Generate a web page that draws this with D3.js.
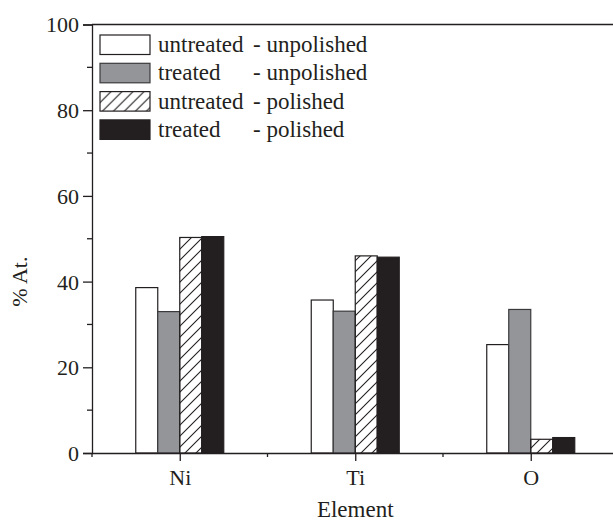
<!DOCTYPE html>
<html>
<head>
<meta charset="utf-8">
<script src="https://cdn.jsdelivr.net/npm/d3@7"></script>
<style>
  body { margin: 0; background: #fff; }
  svg { display: block; font-family: "Liberation Serif", "Times New Roman", serif; }
</style>
</head>
<body>
<script>
var elements = ["Ni", "Ti", "O"];
var seriesNames = ["untreated - unpolished", "treated - unpolished", "untreated - polished", "treated - polished"];
var legendLeft = ["untreated", "treated", "untreated", "treated"];
var legendRight = ["- unpolished", "- unpolished", "- polished", "- polished"];
var untreatedUnpolished = [38.6, 35.7, 25.3];
var treatedUnpolished = [33.0, 33.1, 33.5];
var untreatedPolished = [50.3, 46.0, 3.2];
var treatedPolished = [50.5, 45.7, 3.6];
var yTicks = [0, 20, 40, 60, 80, 100];

var series = [untreatedUnpolished, treatedUnpolished, untreatedPolished, treatedPolished];
var fills = ["#ffffff", "#939598", "url(#hatch)", "#231f20"];
var ink = "#231f20";

var W = 613, H = 523;
var margin = { left: 92, top: 24.5, bottom: 70 };

var svg = d3.select("body").append("svg")
    .attr("width", W)
    .attr("height", H);

// hatch pattern for the untreated-polished series
var defs = svg.append("defs");
defs.append("pattern")
    .attr("id", "hatch")
    .attr("patternUnits", "userSpaceOnUse")
    .attr("width", 11)
    .attr("height", 11)
  .append("path")
    .attr("d", "M-3,3 L3,-3 M0,11 L11,0 M8,14 L14,8")
    .style("stroke", ink)
    .style("stroke-width", 1.1);

var x = d3.scaleLinear()
    .domain([0.5, 3.5])
    .range([margin.left, margin.left + 3 * 175.5]);

var y = d3.scaleLinear()
    .domain([0, 100])
    .range([H - margin.bottom, margin.top]);

var barW = 22;

// bars
series.forEach(function(vals, s) {
    svg.selectAll(".bar" + s)
        .data(vals)
        .enter().append("rect")
        .attr("class", "bar" + s)
        .attr("x", function(d, i) { return x(i + 1) + (s - 2) * barW; })
        .attr("y", function(d) { return y(d); })
        .attr("width", barW)
        .attr("height", function(d) { return y(0) - y(d); })
        .style("fill", fills[s])
        .style("stroke", s == 1 ? "#3a3a3c" : ink)
        .style("stroke-width", 1.2);
});

// y axis
var yAxis = d3.axisLeft(y)
    .tickValues(yTicks)
    .tickSize(9)
    .tickPadding(4);
var gy = svg.append("g")
    .attr("transform", "translate(" + margin.left + ",0)")
    .call(yAxis)
    .attr("font-family", null)
    .attr("font-size", null);
gy.selectAll("text").style("font-size", "22px").style("fill", ink).attr("dy", "0.34em");
gy.selectAll("line").style("stroke", ink).style("stroke-width", 1.3);
gy.select(".domain").style("stroke", ink).style("stroke-width", 1.3);

// minor y ticks
svg.selectAll(".ymin")
    .data(d3.range(10, 100, 20))
    .enter().append("line")
    .attr("x1", margin.left - 5)
    .attr("x2", margin.left)
    .attr("y1", function(d) { return y(d); })
    .attr("y2", function(d) { return y(d); })
    .style("stroke", ink)
    .style("stroke-width", 1.3);

// x axis
var xAxis = d3.axisBottom(x)
    .tickValues([1, 2, 3])
    .tickFormat(function(d) { return elements[d - 1]; })
    .tickSize(8)
    .tickSizeOuter(0)
    .tickPadding(8);
var gx = svg.append("g")
    .attr("transform", "translate(0," + y(0) + ")")
    .call(xAxis)
    .attr("font-family", null)
    .attr("font-size", null);
gx.selectAll("text").style("font-size", "22px").style("fill", ink);
gx.selectAll("line").style("stroke", ink).style("stroke-width", 1.3);
gx.select(".domain").style("stroke", ink).style("stroke-width", 1.3);

// minor x ticks between categories
svg.selectAll(".xmin")
    .data([0.5, 1.5, 2.5])
    .enter().append("line")
    .attr("x1", function(d) { return x(d); })
    .attr("x2", function(d) { return x(d); })
    .attr("y1", y(0))
    .attr("y2", y(0) + 4)
    .style("stroke", ink)
    .style("stroke-width", 1.3);

// top frame line
svg.append("line")
    .attr("x1", margin.left)
    .attr("x2", x(3.5))
    .attr("y1", y(100))
    .attr("y2", y(100))
    .style("stroke", ink)
    .style("stroke-width", 1.3);

// axis titles
svg.append("text")
    .attr("x", x(2))
    .attr("y", 517)
    .attr("text-anchor", "middle")
    .style("font-size", "23px")
    .style("fill", ink)
    .text("Element");

svg.append("text")
    .attr("transform", "translate(27," + y(40) + ") rotate(-90)")
    .attr("text-anchor", "middle")
    .style("font-size", "22px")
    .style("fill", ink)
    .text("% At.");

// legend
var legend = svg.append("g").attr("transform", "translate(100,35)");
var rows = legend.selectAll("g")
    .data(seriesNames)
    .enter().append("g")
    .attr("transform", function(d, i) { return "translate(0," + i * 28.3 + ")"; });
rows.append("rect")
    .attr("width", 50)
    .attr("height", 19.5)
    .style("fill", function(d, i) { return fills[i]; })
    .style("stroke", function(d, i) { return i == 1 ? "#3a3a3c" : ink; })
    .style("stroke-width", 1.2);
rows.append("text")
    .attr("x", 58)
    .attr("y", 17)
    .style("font-size", "23px")
    .style("fill", ink)
    .text(function(d, i) { return legendLeft[i]; });
rows.append("text")
    .attr("x", 153)
    .attr("y", 17)
    .style("font-size", "23px")
    .style("fill", ink)
    .text(function(d, i) { return legendRight[i]; });
</script>
</body>
</html>
